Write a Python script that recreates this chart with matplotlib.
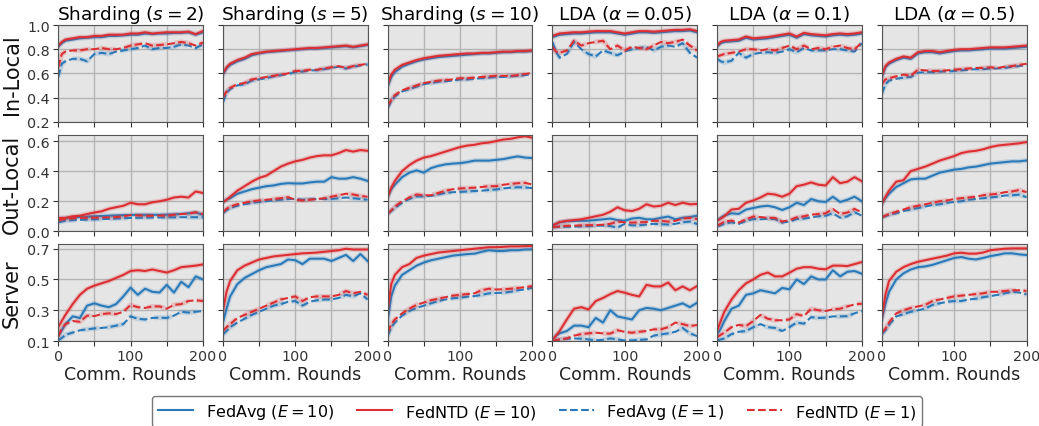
import matplotlib.pyplot as plt

rounds = [0, 5, 10, 20, 30, 40, 50, 60, 70, 80, 90, 100, 110, 120, 130, 140, 150, 160, 170, 180, 190, 200]

titles = ['Sharding ($s=2$)', 'Sharding ($s=5$)', 'Sharding ($s=10$)',
          r'LDA ($\alpha=0.05$)', r'LDA ($\alpha=0.1$)', r'LDA ($\alpha=0.5$)']
row_labels = ['In-Local', 'Out-Local', 'Server']

# ---- In-Local accuracy, one list per column ----
in_ntd10 = [
    [0.83, 0.86, 0.88, 0.89, 0.90, 0.90, 0.91, 0.91, 0.92, 0.92, 0.92, 0.93, 0.93, 0.94, 0.93, 0.935, 0.94, 0.94, 0.94, 0.945, 0.925, 0.95],
    [0.60, 0.65, 0.68, 0.71, 0.73, 0.76, 0.77, 0.78, 0.785, 0.79, 0.795, 0.80, 0.805, 0.81, 0.81, 0.815, 0.82, 0.825, 0.83, 0.82, 0.83, 0.84],
    [0.51, 0.59, 0.63, 0.67, 0.69, 0.71, 0.725, 0.735, 0.745, 0.75, 0.755, 0.76, 0.765, 0.765, 0.77, 0.77, 0.775, 0.78, 0.78, 0.785, 0.785, 0.79],
    [0.91, 0.92, 0.93, 0.935, 0.94, 0.94, 0.945, 0.95, 0.95, 0.95, 0.94, 0.93, 0.94, 0.95, 0.95, 0.945, 0.95, 0.955, 0.96, 0.96, 0.965, 0.95],
    [0.83, 0.86, 0.87, 0.875, 0.88, 0.905, 0.89, 0.895, 0.90, 0.91, 0.92, 0.93, 0.905, 0.935, 0.925, 0.92, 0.915, 0.925, 0.93, 0.925, 0.93, 0.94],
    [0.58, 0.66, 0.69, 0.72, 0.74, 0.73, 0.775, 0.785, 0.785, 0.775, 0.785, 0.795, 0.80, 0.80, 0.805, 0.81, 0.815, 0.815, 0.815, 0.82, 0.825, 0.83],
]
in_avg10 = [
    [0.82, 0.85, 0.87, 0.88, 0.89, 0.895, 0.90, 0.90, 0.91, 0.91, 0.915, 0.92, 0.92, 0.93, 0.925, 0.93, 0.93, 0.935, 0.935, 0.94, 0.92, 0.94],
    [0.59, 0.64, 0.67, 0.70, 0.72, 0.75, 0.765, 0.775, 0.78, 0.785, 0.79, 0.795, 0.80, 0.805, 0.805, 0.81, 0.815, 0.82, 0.825, 0.815, 0.825, 0.835],
    [0.49, 0.57, 0.61, 0.655, 0.68, 0.70, 0.715, 0.725, 0.735, 0.74, 0.745, 0.75, 0.755, 0.76, 0.765, 0.765, 0.77, 0.775, 0.775, 0.78, 0.78, 0.785],
    [0.90, 0.91, 0.92, 0.925, 0.93, 0.93, 0.935, 0.94, 0.94, 0.94, 0.93, 0.92, 0.93, 0.94, 0.94, 0.935, 0.94, 0.945, 0.95, 0.95, 0.955, 0.94],
    [0.82, 0.85, 0.86, 0.865, 0.87, 0.895, 0.88, 0.885, 0.89, 0.90, 0.91, 0.92, 0.895, 0.925, 0.915, 0.91, 0.905, 0.915, 0.92, 0.915, 0.92, 0.93],
    [0.57, 0.65, 0.68, 0.71, 0.73, 0.72, 0.765, 0.775, 0.775, 0.765, 0.775, 0.785, 0.79, 0.79, 0.795, 0.80, 0.805, 0.805, 0.805, 0.81, 0.815, 0.82],
]
in_ntd1 = [
    [0.65, 0.76, 0.78, 0.79, 0.79, 0.80, 0.80, 0.81, 0.80, 0.80, 0.81, 0.83, 0.84, 0.85, 0.83, 0.835, 0.84, 0.85, 0.86, 0.85, 0.83, 0.855],
    [0.40, 0.45, 0.48, 0.51, 0.52, 0.55, 0.56, 0.57, 0.58, 0.59, 0.60, 0.62, 0.62, 0.63, 0.63, 0.64, 0.65, 0.66, 0.645, 0.66, 0.67, 0.68],
    [0.33, 0.38, 0.42, 0.46, 0.48, 0.50, 0.52, 0.53, 0.54, 0.545, 0.55, 0.56, 0.56, 0.565, 0.57, 0.575, 0.58, 0.58, 0.58, 0.585, 0.595, 0.605],
    [0.82, 0.78, 0.77, 0.79, 0.87, 0.83, 0.85, 0.86, 0.87, 0.80, 0.83, 0.79, 0.82, 0.81, 0.80, 0.83, 0.86, 0.85, 0.86, 0.88, 0.83, 0.79],
    [0.74, 0.75, 0.76, 0.77, 0.78, 0.80, 0.80, 0.79, 0.80, 0.79, 0.81, 0.83, 0.80, 0.83, 0.80, 0.81, 0.80, 0.82, 0.83, 0.81, 0.80, 0.855],
    [0.51, 0.55, 0.56, 0.575, 0.59, 0.58, 0.63, 0.625, 0.62, 0.62, 0.625, 0.63, 0.635, 0.64, 0.645, 0.645, 0.65, 0.645, 0.655, 0.66, 0.67, 0.68],
]
in_avg1 = [
    [0.57, 0.68, 0.70, 0.72, 0.72, 0.70, 0.76, 0.77, 0.76, 0.78, 0.79, 0.80, 0.81, 0.83, 0.80, 0.81, 0.81, 0.82, 0.84, 0.83, 0.81, 0.84],
    [0.36, 0.44, 0.47, 0.50, 0.51, 0.54, 0.55, 0.56, 0.575, 0.585, 0.595, 0.61, 0.615, 0.625, 0.625, 0.635, 0.645, 0.655, 0.64, 0.655, 0.665, 0.675],
    [0.31, 0.37, 0.41, 0.45, 0.47, 0.49, 0.51, 0.52, 0.53, 0.535, 0.54, 0.55, 0.55, 0.555, 0.56, 0.565, 0.57, 0.57, 0.575, 0.58, 0.585, 0.595],
    [0.86, 0.78, 0.73, 0.76, 0.86, 0.80, 0.76, 0.74, 0.79, 0.77, 0.75, 0.78, 0.80, 0.81, 0.82, 0.79, 0.82, 0.83, 0.82, 0.85, 0.77, 0.73],
    [0.72, 0.70, 0.69, 0.705, 0.77, 0.73, 0.76, 0.77, 0.775, 0.77, 0.78, 0.80, 0.775, 0.81, 0.79, 0.79, 0.79, 0.80, 0.80, 0.79, 0.78, 0.85],
    [0.43, 0.51, 0.54, 0.555, 0.565, 0.57, 0.605, 0.61, 0.61, 0.615, 0.615, 0.62, 0.625, 0.63, 0.635, 0.635, 0.64, 0.64, 0.645, 0.655, 0.66, 0.67],
]

# ---- Out-Local accuracy ----
out_ntd10 = [
    [0.089, 0.089, 0.089, 0.10, 0.104, 0.115, 0.125, 0.133, 0.15, 0.16, 0.17, 0.19, 0.18, 0.18, 0.193, 0.20, 0.21, 0.225, 0.23, 0.225, 0.265, 0.255],
    [0.193, 0.21, 0.23, 0.27, 0.30, 0.33, 0.355, 0.37, 0.40, 0.43, 0.45, 0.465, 0.475, 0.49, 0.50, 0.505, 0.505, 0.52, 0.54, 0.53, 0.54, 0.535],
    [0.227, 0.29, 0.335, 0.40, 0.44, 0.47, 0.49, 0.50, 0.515, 0.53, 0.545, 0.56, 0.57, 0.575, 0.585, 0.59, 0.60, 0.61, 0.615, 0.625, 0.632, 0.622],
    [0.038, 0.05, 0.062, 0.07, 0.075, 0.08, 0.09, 0.10, 0.11, 0.13, 0.16, 0.14, 0.135, 0.15, 0.18, 0.165, 0.17, 0.19, 0.175, 0.19, 0.18, 0.182],
    [0.071, 0.085, 0.10, 0.145, 0.15, 0.19, 0.205, 0.225, 0.25, 0.245, 0.23, 0.25, 0.30, 0.31, 0.325, 0.31, 0.305, 0.36, 0.32, 0.33, 0.36, 0.333],
    [0.182, 0.23, 0.27, 0.33, 0.34, 0.40, 0.415, 0.43, 0.45, 0.47, 0.485, 0.50, 0.52, 0.53, 0.535, 0.545, 0.56, 0.57, 0.575, 0.58, 0.585, 0.593],
]
out_avg10 = [
    [0.08, 0.085, 0.088, 0.092, 0.095, 0.098, 0.10, 0.102, 0.104, 0.106, 0.108, 0.109, 0.11, 0.11, 0.11, 0.11, 0.111, 0.113, 0.116, 0.12, 0.125, 0.111],
    [0.193, 0.21, 0.22, 0.25, 0.265, 0.28, 0.29, 0.30, 0.305, 0.315, 0.32, 0.318, 0.318, 0.325, 0.33, 0.33, 0.36, 0.35, 0.35, 0.36, 0.35, 0.335],
    [0.227, 0.28, 0.31, 0.36, 0.39, 0.405, 0.39, 0.42, 0.435, 0.445, 0.45, 0.453, 0.46, 0.47, 0.47, 0.47, 0.475, 0.48, 0.49, 0.498, 0.49, 0.487],
    [0.038, 0.05, 0.06, 0.067, 0.069, 0.07, 0.071, 0.075, 0.08, 0.085, 0.075, 0.07, 0.085, 0.09, 0.08, 0.08, 0.09, 0.098, 0.08, 0.09, 0.095, 0.104],
    [0.071, 0.09, 0.105, 0.12, 0.116, 0.145, 0.155, 0.165, 0.17, 0.16, 0.142, 0.16, 0.19, 0.175, 0.215, 0.20, 0.195, 0.23, 0.195, 0.21, 0.23, 0.20],
    [0.182, 0.22, 0.25, 0.295, 0.32, 0.345, 0.35, 0.35, 0.37, 0.39, 0.40, 0.41, 0.415, 0.425, 0.43, 0.44, 0.45, 0.455, 0.46, 0.465, 0.465, 0.471],
]
out_ntd1 = [
    [0.071, 0.078, 0.082, 0.087, 0.089, 0.09, 0.091, 0.092, 0.093, 0.095, 0.10, 0.108, 0.106, 0.104, 0.104, 0.105, 0.104, 0.11, 0.115, 0.118, 0.127, 0.115],
    [0.127, 0.15, 0.165, 0.18, 0.19, 0.20, 0.205, 0.21, 0.215, 0.22, 0.227, 0.21, 0.205, 0.21, 0.215, 0.22, 0.23, 0.24, 0.25, 0.245, 0.235, 0.23],
    [0.116, 0.14, 0.165, 0.20, 0.225, 0.245, 0.24, 0.24, 0.255, 0.27, 0.28, 0.285, 0.288, 0.29, 0.295, 0.30, 0.30, 0.31, 0.315, 0.32, 0.322, 0.311],
    [0.027, 0.03, 0.033, 0.037, 0.038, 0.04, 0.041, 0.042, 0.044, 0.05, 0.065, 0.06, 0.058, 0.06, 0.062, 0.07, 0.07, 0.065, 0.07, 0.085, 0.09, 0.082],
    [0.038, 0.05, 0.065, 0.071, 0.058, 0.08, 0.098, 0.095, 0.09, 0.089, 0.065, 0.075, 0.093, 0.10, 0.111, 0.115, 0.12, 0.149, 0.115, 0.125, 0.149, 0.127],
    [0.093, 0.105, 0.115, 0.13, 0.145, 0.16, 0.17, 0.18, 0.19, 0.20, 0.205, 0.215, 0.22, 0.225, 0.23, 0.24, 0.245, 0.25, 0.26, 0.265, 0.275, 0.26],
]
out_avg1 = [
    [0.06, 0.065, 0.07, 0.074, 0.076, 0.078, 0.08, 0.081, 0.083, 0.085, 0.087, 0.089, 0.09, 0.091, 0.092, 0.092, 0.093, 0.093, 0.094, 0.094, 0.094, 0.093],
    [0.12, 0.14, 0.155, 0.17, 0.18, 0.19, 0.195, 0.20, 0.205, 0.21, 0.215, 0.215, 0.21, 0.213, 0.215, 0.215, 0.215, 0.22, 0.225, 0.22, 0.215, 0.21],
    [0.116, 0.135, 0.155, 0.19, 0.215, 0.232, 0.232, 0.235, 0.245, 0.255, 0.26, 0.262, 0.265, 0.268, 0.27, 0.275, 0.278, 0.285, 0.29, 0.293, 0.292, 0.287],
    [0.027, 0.028, 0.03, 0.031, 0.031, 0.033, 0.035, 0.037, 0.038, 0.035, 0.025, 0.05, 0.04, 0.04, 0.045, 0.05, 0.048, 0.045, 0.05, 0.06, 0.065, 0.049],
    [0.033, 0.04, 0.05, 0.06, 0.049, 0.07, 0.082, 0.08, 0.083, 0.082, 0.058, 0.065, 0.082, 0.085, 0.093, 0.10, 0.104, 0.12, 0.09, 0.10, 0.127, 0.104],
    [0.093, 0.10, 0.11, 0.12, 0.135, 0.145, 0.155, 0.165, 0.175, 0.18, 0.19, 0.195, 0.20, 0.21, 0.215, 0.22, 0.225, 0.23, 0.238, 0.24, 0.244, 0.227],
]

# ---- Server accuracy ----
srv_ntd10 = [
    [0.19, 0.23, 0.27, 0.34, 0.40, 0.44, 0.46, 0.475, 0.49, 0.51, 0.53, 0.555, 0.56, 0.555, 0.565, 0.555, 0.545, 0.56, 0.58, 0.585, 0.59, 0.598],
    [0.295, 0.42, 0.49, 0.56, 0.59, 0.61, 0.63, 0.64, 0.65, 0.655, 0.66, 0.665, 0.67, 0.672, 0.675, 0.68, 0.685, 0.69, 0.70, 0.695, 0.695, 0.695],
    [0.295, 0.47, 0.53, 0.58, 0.60, 0.64, 0.655, 0.665, 0.675, 0.68, 0.685, 0.69, 0.695, 0.70, 0.705, 0.71, 0.71, 0.712, 0.715, 0.715, 0.717, 0.717],
    [0.104, 0.135, 0.165, 0.24, 0.31, 0.32, 0.305, 0.36, 0.38, 0.405, 0.425, 0.414, 0.40, 0.39, 0.465, 0.455, 0.455, 0.48, 0.43, 0.455, 0.43, 0.457],
    [0.165, 0.23, 0.29, 0.37, 0.43, 0.475, 0.50, 0.53, 0.545, 0.52, 0.52, 0.544, 0.57, 0.58, 0.58, 0.57, 0.566, 0.59, 0.59, 0.587, 0.60, 0.613],
    [0.252, 0.40, 0.49, 0.55, 0.58, 0.60, 0.615, 0.625, 0.635, 0.645, 0.655, 0.67, 0.674, 0.668, 0.668, 0.675, 0.69, 0.695, 0.70, 0.702, 0.702, 0.702],
]
srv_avg10 = [
    [0.13, 0.17, 0.21, 0.26, 0.25, 0.33, 0.345, 0.33, 0.32, 0.34, 0.39, 0.447, 0.40, 0.44, 0.42, 0.415, 0.465, 0.415, 0.485, 0.45, 0.52, 0.50],
    [0.22, 0.31, 0.39, 0.47, 0.51, 0.535, 0.56, 0.58, 0.59, 0.60, 0.63, 0.625, 0.60, 0.635, 0.635, 0.635, 0.62, 0.64, 0.66, 0.62, 0.665, 0.62],
    [0.23, 0.39, 0.46, 0.53, 0.56, 0.59, 0.61, 0.625, 0.635, 0.645, 0.655, 0.66, 0.665, 0.668, 0.68, 0.69, 0.685, 0.685, 0.69, 0.69, 0.695, 0.696],
    [0.104, 0.135, 0.15, 0.165, 0.20, 0.20, 0.19, 0.25, 0.22, 0.30, 0.26, 0.25, 0.24, 0.30, 0.315, 0.31, 0.30, 0.315, 0.33, 0.345, 0.32, 0.349],
    [0.143, 0.18, 0.23, 0.31, 0.33, 0.40, 0.41, 0.43, 0.42, 0.41, 0.445, 0.436, 0.50, 0.47, 0.52, 0.50, 0.50, 0.56, 0.52, 0.55, 0.555, 0.537],
    [0.241, 0.34, 0.42, 0.50, 0.54, 0.565, 0.58, 0.585, 0.595, 0.61, 0.625, 0.64, 0.646, 0.635, 0.63, 0.64, 0.652, 0.66, 0.67, 0.67, 0.663, 0.659],
]
srv_ntd1 = [
    [0.13, 0.18, 0.21, 0.23, 0.225, 0.265, 0.262, 0.275, 0.28, 0.275, 0.29, 0.334, 0.32, 0.315, 0.325, 0.325, 0.31, 0.335, 0.34, 0.36, 0.365, 0.36],
    [0.165, 0.19, 0.21, 0.25, 0.27, 0.29, 0.31, 0.33, 0.35, 0.37, 0.38, 0.39, 0.36, 0.385, 0.39, 0.39, 0.39, 0.40, 0.425, 0.41, 0.42, 0.40],
    [0.154, 0.21, 0.24, 0.28, 0.31, 0.335, 0.35, 0.365, 0.375, 0.385, 0.395, 0.40, 0.405, 0.41, 0.43, 0.44, 0.435, 0.436, 0.44, 0.445, 0.45, 0.457],
    [0.10, 0.105, 0.11, 0.117, 0.135, 0.145, 0.15, 0.154, 0.15, 0.148, 0.17, 0.16, 0.154, 0.16, 0.165, 0.176, 0.176, 0.19, 0.22, 0.21, 0.197, 0.204],
    [0.126, 0.14, 0.155, 0.19, 0.205, 0.197, 0.23, 0.27, 0.245, 0.235, 0.235, 0.24, 0.275, 0.262, 0.31, 0.30, 0.295, 0.306, 0.31, 0.325, 0.338, 0.343],
    [0.154, 0.18, 0.22, 0.28, 0.30, 0.315, 0.325, 0.335, 0.36, 0.37, 0.38, 0.39, 0.395, 0.40, 0.405, 0.41, 0.42, 0.42, 0.425, 0.43, 0.43, 0.425],
]
srv_avg1 = [
    [0.104, 0.12, 0.14, 0.155, 0.17, 0.176, 0.182, 0.185, 0.19, 0.20, 0.21, 0.26, 0.245, 0.24, 0.25, 0.252, 0.25, 0.265, 0.29, 0.285, 0.29, 0.295],
    [0.143, 0.165, 0.19, 0.22, 0.245, 0.27, 0.29, 0.31, 0.33, 0.34, 0.355, 0.36, 0.33, 0.355, 0.365, 0.37, 0.37, 0.38, 0.40, 0.39, 0.41, 0.37],
    [0.132, 0.19, 0.22, 0.265, 0.295, 0.315, 0.33, 0.345, 0.36, 0.37, 0.378, 0.382, 0.388, 0.392, 0.40, 0.41, 0.412, 0.414, 0.42, 0.43, 0.435, 0.447],
    [0.10, 0.105, 0.11, 0.115, 0.117, 0.115, 0.11, 0.105, 0.108, 0.117, 0.11, 0.104, 0.104, 0.108, 0.11, 0.135, 0.143, 0.15, 0.16, 0.185, 0.15, 0.132],
    [0.104, 0.11, 0.117, 0.145, 0.16, 0.165, 0.19, 0.21, 0.19, 0.185, 0.165, 0.19, 0.22, 0.213, 0.255, 0.25, 0.252, 0.26, 0.26, 0.262, 0.28, 0.295],
    [0.143, 0.17, 0.205, 0.26, 0.275, 0.29, 0.30, 0.31, 0.335, 0.345, 0.355, 0.36, 0.36, 0.37, 0.375, 0.385, 0.392, 0.40, 0.41, 0.42, 0.415, 0.403],
]

rows = [
    (in_avg10, in_ntd10, in_avg1, in_ntd1),
    (out_avg10, out_ntd10, out_avg1, out_ntd1),
    (srv_avg10, srv_ntd10, srv_avg1, srv_ntd1),
]
ylims = [(0.2, 1.0), (0.0, 0.642), (0.1, 0.728)]
yticks = [[0.2, 0.4, 0.6, 0.8, 1.0], [0.0, 0.2, 0.4, 0.6], [0.1, 0.3, 0.5, 0.7]]

blue = '#2a7ab9'
red = '#dd2f33'
styles = [
    ('FedAvg ($E=10$)', blue, '-'),
    ('FedNTD ($E=10$)', red, '-'),
    ('FedAvg ($E=1$)', blue, '--'),
    ('FedNTD ($E=1$)', red, '--'),
]

fig, axes = plt.subplots(3, 6, figsize=(10.39, 4.27), dpi=100)
fig.subplots_adjust(left=0.056, right=0.988, top=0.939, bottom=0.199, wspace=0.138, hspace=0.135)

for r in range(3):
    for c in range(6):
        ax = axes[r][c]
        ax.set_facecolor('#e5e5e5')
        for series, (label, color, ls) in zip(rows[r], styles):
            ax.plot(rounds, series[c], color=color, ls=ls, lw=3.5, alpha=0.2)
            ax.plot(rounds, series[c], color=color, ls=ls, lw=1.5, label=label)
        ax.set_xlim(0, 200)
        ax.set_ylim(*ylims[r])
        ax.set_xticks([0, 50, 100, 150, 200])
        ax.set_yticks(yticks[r])
        ax.grid(True, color='#b4b4b4', lw=1)
        ax.set_axisbelow(True)
        for sp in ax.spines.values():
            sp.set_color('#555555')
        ax.tick_params(colors='#333333', labelsize=10.3, length=3.5, pad=2.5)
        if r == 2:
            ax.set_xticklabels(['0', '', '100', '', '200'])
            ax.set_xlabel('Comm. Rounds', fontsize=12.5, color='#222222', labelpad=1)
        else:
            ax.set_xticklabels([])
        if c == 0:
            ax.set_yticklabels([f'{t:.1f}' for t in yticks[r]])
            ax.set_ylabel(row_labels[r], fontsize=15, color='#111111')
        else:
            ax.set_yticklabels([])
        if r == 0:
            ax.set_title(titles[c], fontsize=13.3, pad=4)

handles, labels = axes[0][0].get_legend_handles_labels()
fig.legend(handles, labels, loc='upper center', bbox_to_anchor=(0.517, 0.071), borderaxespad=0,
           ncol=4, fontsize=11.5, handlelength=2.2, handletextpad=0.8, columnspacing=1.4,
           frameon=True, edgecolor='#555555')

fig.savefig('out.png', dpi=100)
